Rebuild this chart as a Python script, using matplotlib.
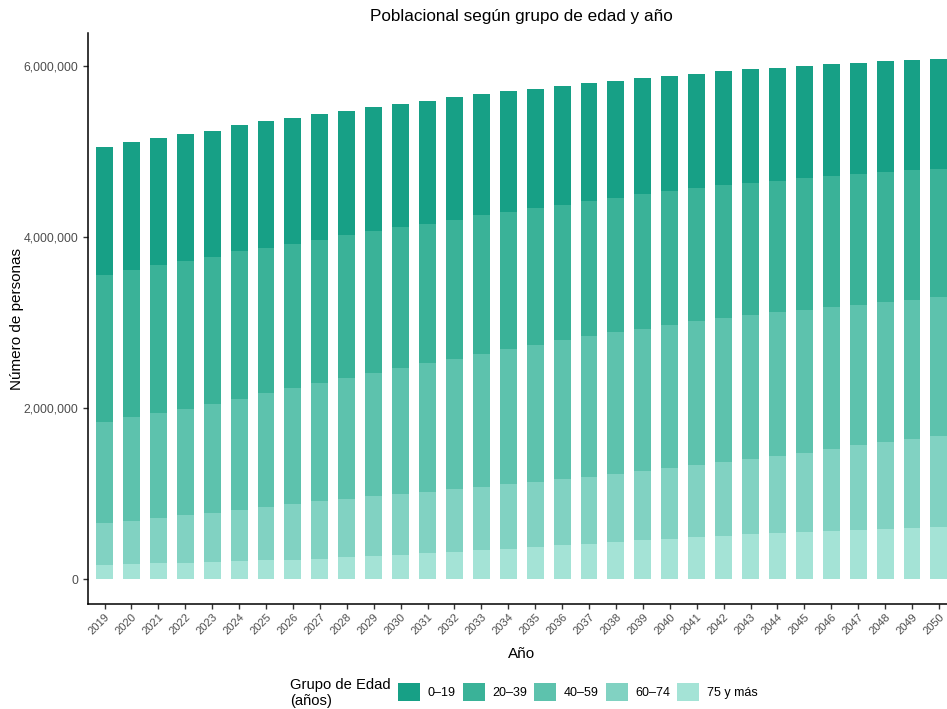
import matplotlib
matplotlib.use("Agg")
import matplotlib.pyplot as plt
import numpy as np
from matplotlib.patches import Patch
from matplotlib.ticker import FuncFormatter

years = list(range(2019, 2051))
groups = ["0–19", "20–39", "40–59", "60–74", "75 y más"]
colors = ["#17a086", "#3ab298", "#5dc2ad", "#81d2c2", "#a4e3d6"]

g0_19 = [1497, 1497, 1485, 1485, 1474, 1474, 1485, 1474, 1474, 1450, 1450, 1439, 1439, 1439, 1415, 1415,
         1392, 1392, 1380, 1368, 1357, 1345, 1333, 1333, 1333, 1322, 1310, 1310, 1298, 1298, 1287, 1287]
g20_39 = [1719, 1719, 1731, 1731, 1719, 1731, 1696, 1684, 1673, 1673, 1661, 1649, 1626, 1626, 1626, 1602,
          1602, 1579, 1579, 1567, 1579, 1567, 1556, 1556, 1544, 1532, 1544, 1532, 1532, 1520, 1520, 1497]
g40_59 = [1181, 1216, 1228, 1240, 1275, 1298, 1333, 1357, 1380, 1415, 1439, 1474, 1509, 1520, 1556, 1579,
          1602, 1626, 1649, 1661, 1661, 1673, 1684, 1684, 1684, 1684, 1673, 1661, 1637, 1637, 1626, 1626]
g60_74 = [491, 503, 526, 561, 573, 596, 620, 655, 678, 678, 702, 713, 713, 737, 737, 760,
          760, 772, 784, 795, 807, 830, 842, 865, 877, 901, 924, 959, 994, 1018, 1041, 1064]
g75 = [164, 175, 187, 187, 199, 211, 222, 222, 234, 257, 269, 281, 304, 316, 339, 351,
       374, 398, 409, 433, 456, 468, 491, 503, 526, 538, 550, 561, 573, 585, 596, 608]

plt.rcParams['font.family'] = ['Liberation Sans', 'DejaVu Sans']

fig = plt.figure(figsize=(9.47, 7.09), dpi=100)
ax = fig.add_axes([88/947, 1-604/709, 1-88/947, (604-33)/709])

x = np.array(years)
series_bottom_up = [g75, g60_74, g40_59, g20_39, g0_19]
cols_bottom_up = colors[::-1]
bottom = np.zeros(len(years))
for vals, c in zip(series_bottom_up, cols_bottom_up):
    v = np.array(vals) * 1000.0
    ax.bar(x, v, bottom=bottom, width=0.63, color=c, linewidth=0)
    bottom += v

ax.set_xlim(2019 - 0.613, 2050 + 0.3)
ax.set_ylim(-292000, 6386000)
ax.set_yticks([0, 2000000, 4000000, 6000000])
ax.yaxis.set_major_formatter(FuncFormatter(lambda v, p: f"{int(v):,}"))
ax.set_xticks(years)
ax.set_xticklabels([str(y) for y in years], rotation=45, ha='right', rotation_mode='anchor')

for s in ['top', 'right']:
    ax.spines[s].set_visible(False)
for s in ['left', 'bottom']:
    ax.spines[s].set_linewidth(1.1)
    ax.spines[s].set_color('black')
ax.tick_params(axis='both', colors='#333333', labelcolor='#4d4d4d', labelsize=8.8, length=3.5, width=1)
ax.tick_params(axis='x', labelsize=8, pad=2)

ax.set_xlabel("Año", fontsize=11)
ax.xaxis.set_label_coords((522 - 88) / 859, (604 - 647) / 571)
ax.set_ylabel("Número de personas", fontsize=11)
ax.yaxis.set_label_coords((24 - 88) / 859, 0.5)
fig.text(521.5 / 947, 1 - 17/709, "Poblacional según grupo de edad y año", ha='center', va='center', fontsize=12.3)

handles = [Patch(facecolor=c, edgecolor='none') for c in colors]
fig.text(290/947, 1 - 693/709, "Grupo de Edad\n(años)", ha='left', va='center', fontsize=10.6, linespacing=1.12)
leg = fig.legend(handles, groups, loc='center left', bbox_to_anchor=(398/947, 1 - 692/709), ncol=5,
                 frameon=False, fontsize=9, handlelength=1.76, handleheight=1.76, handletextpad=0.6,
                 columnspacing=0.57, borderaxespad=0, borderpad=0)

fig.savefig("out.png", dpi=100)
